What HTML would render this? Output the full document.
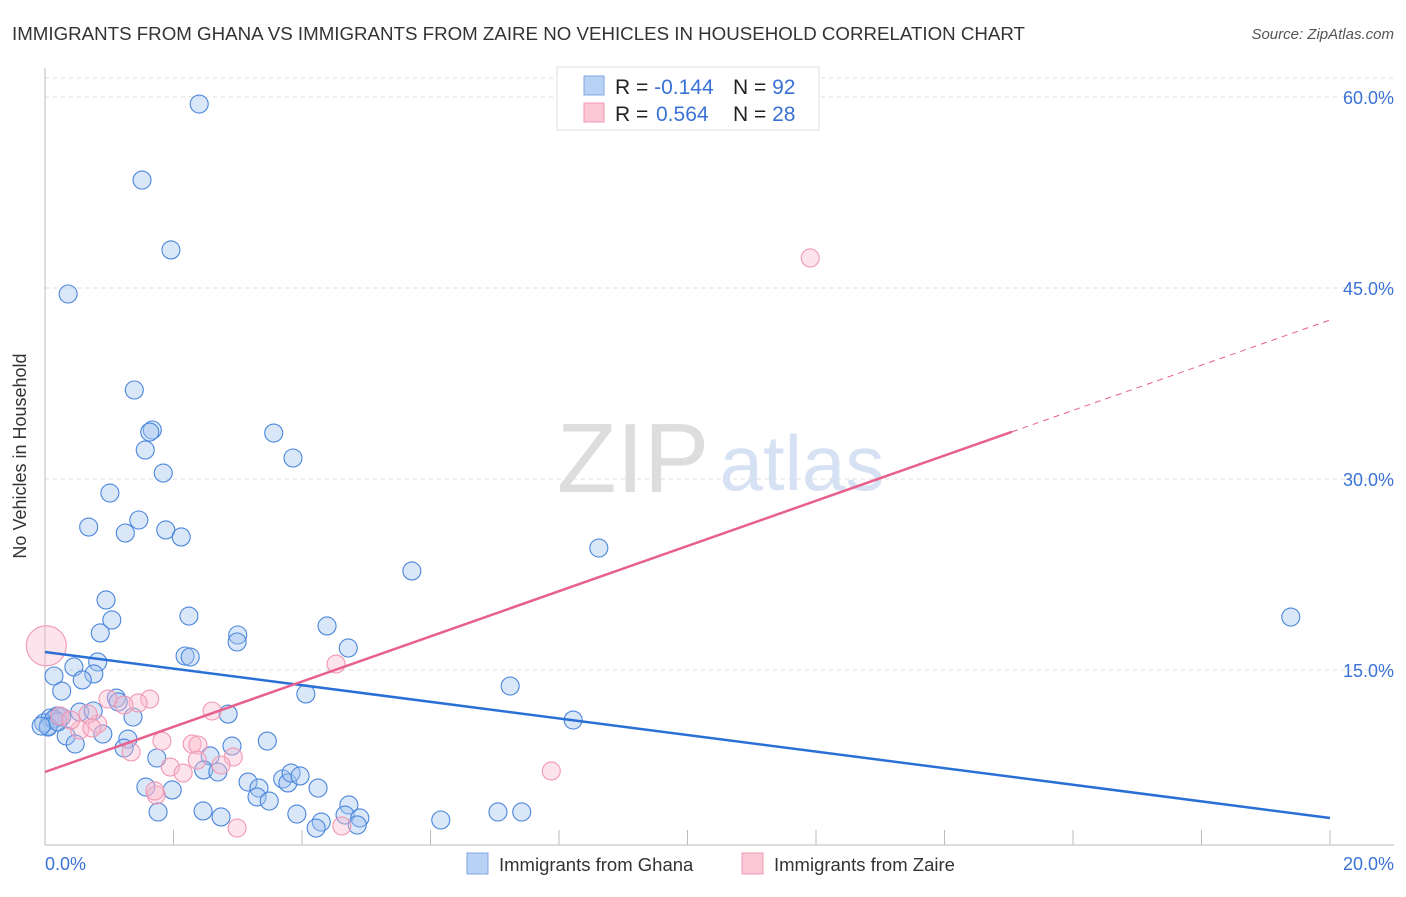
<!DOCTYPE html>
<html><head><meta charset="utf-8"><style>
body{margin:0;background:#fff;font-family:"Liberation Sans",sans-serif}
svg text{font-family:"Liberation Sans",sans-serif}
</style></head><body>
<svg width="1406" height="892" xmlns="http://www.w3.org/2000/svg">
<text x="12" y="40" font-size="18" fill="#333" textLength="1013" lengthAdjust="spacingAndGlyphs">IMMIGRANTS FROM GHANA VS IMMIGRANTS FROM ZAIRE NO VEHICLES IN HOUSEHOLD CORRELATION CHART</text>
<text x="1394" y="39" font-size="15" fill="#555" text-anchor="end" font-style="italic">Source: ZipAtlas.com</text>
<g id="grid"></g>
<text x="633" y="492" font-size="98" fill="#ddd" font-family="Liberation Serif" text-anchor="middle">ZIP</text>
<text x="802" y="490" font-size="78" fill="#d6e2f3" text-anchor="middle">atlas</text>
<g id="pts"></g>
<g id="lines"></g>
<text x="26" y="456" font-size="18" fill="#333" text-anchor="middle" transform="rotate(-90 26 456)">No Vehicles in Household</text>
<text x="45" y="870" font-size="18" fill="#3a72d6">0.0%</text>
<text x="1394" y="870" font-size="18" fill="#3a72d6" text-anchor="end">20.0%</text>
<g>
<rect x="557" y="67" width="262" height="63" fill="#fff" stroke="#ddd"/>
<rect x="584" y="76" width="20" height="19" fill="#b8d1f5" stroke="#7fa6e0"/>
<rect x="584" y="103" width="20" height="19" fill="#fcc8d6" stroke="#f09ab2"/>
<text x="615" y="94" font-size="21" fill="#222">R = <tspan fill="#3a72d6">-0.144</tspan><tspan x="733">N = </tspan><tspan fill="#3a72d6">92</tspan></text>
<text x="615" y="121" font-size="21" fill="#222">R = <tspan x="656" fill="#3a72d6">0.564</tspan><tspan x="733">N = </tspan><tspan fill="#3a72d6">28</tspan></text>
</g>
<g>
<rect x="467" y="853" width="21" height="21" fill="#b8d1f5" stroke="#7fa6e0"/>
<text x="499" y="871" font-size="18.5" fill="#333">Immigrants from Ghana</text>
<rect x="742" y="853" width="21" height="21" fill="#fcc8d6" stroke="#f09ab2"/>
<text x="774" y="871" font-size="18.5" fill="#333">Immigrants from Zaire</text>
</g>
</svg>
<script>
const yTicks=[15,30,45,60];
const yTickLabels=["15.0%","30.0%","45.0%","60.0%"];
const xTicks=[0,2,4,6,8,10,12,14,16,18,20];
const ghanaPx=[[199,104],[142,180],[171,250],[68,294],[134,390],[152,430],[150,432],[145,450],[163,473],[274,433],[293,458],[110,493],[89,527],[139,520],[125,533],[166,530],[181,537],[599,548],[412,571],[106,600],[112,620],[189,616],[100,633],[238,635],[237,642],[327,626],[348,648],[98,662],[185,656],[190,657],[74,667],[54,676],[94,674],[82,680],[62,691],[306,694],[510,686],[573,720],[116,698],[118,702],[133,717],[80,712],[93,711],[57,716],[50,718],[62,717],[48,726],[66,736],[75,744],[103,734],[128,739],[124,748],[228,714],[232,746],[267,741],[157,758],[210,756],[204,770],[218,772],[146,787],[172,790],[158,812],[248,782],[259,788],[257,797],[269,801],[283,779],[288,783],[291,773],[300,776],[318,788],[203,811],[221,817],[297,814],[321,822],[316,828],[349,805],[345,815],[360,818],[357,825],[441,820],[498,812],[522,812],[1291,617],[44,723],[54,719],[48,727],[58,722],[60,716],[41,726]];
const zairePx=[[810,258],[336,664],[150,699],[138,703],[108,699],[124,705],[98,724],[88,714],[60,716],[80,730],[71,720],[162,741],[212,711],[233,757],[192,744],[198,745],[170,767],[183,773],[221,765],[197,760],[156,795],[155,791],[237,828],[342,826],[551,771],[131,752],[92,728]];
const ghanaX=ghanaPx.map(p=>+((p[0]-45)/64.25).toFixed(2));
const ghanaY=ghanaPx.map(p=>+((861-p[1])/12.733).toFixed(2));
const zaireX=zairePx.map(p=>+((p[0]-45)/64.25).toFixed(2));
const zaireY=zairePx.map(p=>+((861-p[1])/12.733).toFixed(2));
const bigZaire=[0.02,16.9];
const ghanaTrend=[16.41,3.38];
const zaireTrend=[6.99,1.775];
const X=v=>45+v*64.25, Y=v=>861-v*12.733;
const NS="http://www.w3.org/2000/svg";
function mk(t,a,p){const e=document.createElementNS(NS,t);for(const k in a)e.setAttribute(k,a[k]);document.getElementById(p).appendChild(e);return e;}
yTicks.forEach((t,i)=>{
 const l=mk('line',{x1:45,x2:1394,y1:Y(t),y2:Y(t),stroke:'#ddd','stroke-dasharray':'4,4'},'grid');
 
 
 const tx=mk('text',{x:1394,y:Y(t)+7,'font-size':18,fill:'#3a72d6','text-anchor':'end'},'grid');tx.textContent=yTickLabels[i];
 
 
});
const tg=mk('line',{x1:45,x2:1394,y1:Y(60)-19,y2:Y(60)-19,stroke:'#ddd','stroke-dasharray':'4,4'},'grid');


const ax=mk('line',{x1:45,x2:45,y1:68,y2:845,stroke:'#bbb'},'grid');


const bx=mk('line',{x1:45,x2:1394,y1:845,y2:845,stroke:'#bbb'},'grid');


xTicks.forEach(t=>{const l=mk('line',{x1:X(t),x2:X(t),y1:830,y2:845,stroke:'#bbb'},'grid');
 
 });
ghanaX.forEach((x,i)=>{const c=mk('circle',{cx:X(x),cy:Y(ghanaY[i]),r:9,fill:'rgba(160,196,240,0.4)',stroke:'#4a86dc','stroke-width':1.1},'pts');
 
 });
zaireX.forEach((x,i)=>{const c=mk('circle',{cx:X(x),cy:Y(zaireY[i]),r:9,fill:'rgba(250,185,205,0.4)',stroke:'#f098b2','stroke-width':1.1},'pts');
 
 });
const bz=mk('circle',{cx:X(bigZaire[0]),cy:Y(bigZaire[1]),r:20,fill:'rgba(250,185,205,0.4)',stroke:'#f098b2','stroke-width':1.1},'pts');


const gl=mk('line',{x1:X(0),y1:Y(ghanaTrend[0]),x2:X(20),y2:Y(ghanaTrend[1]),stroke:'#2a6fd6','stroke-width':2.5},'lines');


const zl=mk('line',{x1:X(0),y1:Y(zaireTrend[0]),x2:X(15.05),y2:Y(zaireTrend[0]+zaireTrend[1]*15.05),stroke:'#e8608e','stroke-width':2.5},'lines');


const zd=mk('line',{x1:X(15.05),y1:Y(zaireTrend[0]+zaireTrend[1]*15.05),x2:X(20),y2:Y(zaireTrend[0]+zaireTrend[1]*20),stroke:'#e8608e','stroke-width':1,'stroke-dasharray':'6,5'},'lines');


</script>
</body></html>
